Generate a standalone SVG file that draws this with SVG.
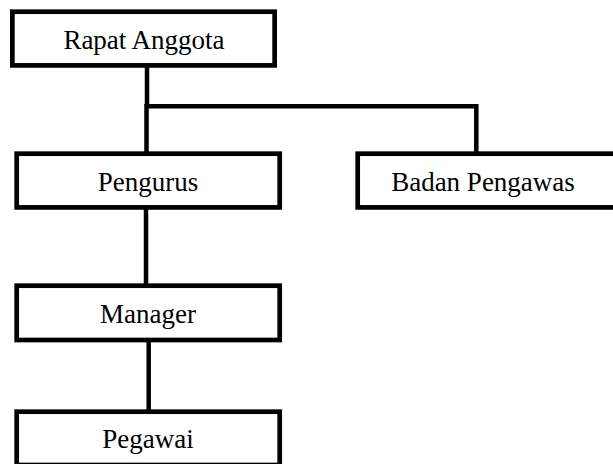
<svg xmlns="http://www.w3.org/2000/svg" width="613" height="464" viewBox="0 0 613 464">
<style>
.box{fill:#fff;stroke:#000;stroke-width:4.7}
.lbl{font-family:"Liberation Serif","Times New Roman",serif;font-size:27px;fill:#000;text-anchor:middle}
.ln{stroke:#000;stroke-width:4.5;fill:none}
</style>
<rect width="613" height="464" fill="#fff"/>
<g id="connectors">
<line class="ln" x1="147" y1="67" x2="147" y2="106.3"/>
<path class="ln" d="M146.5 153 V106.3 H476.3 V153"/>
<line class="ln" x1="146" y1="207" x2="146" y2="285"/>
<line class="ln" x1="148.7" y1="340" x2="148.7" y2="411"/>
</g>
<g id="rapat-anggota">
<rect class="box" x="12.35" y="11.7" width="262.3" height="53.7"/>
<text class="lbl" x="144" y="48.5">Rapat Anggota</text>
</g>
<g id="pengurus">
<rect class="box" x="16.7" y="153.7" width="263" height="53.7"/>
<text class="lbl" x="148" y="190.5">Pengurus</text>
</g>
<g id="badan-pengawas">
<rect class="box" x="357.7" y="153.7" width="262" height="53.7"/>
<text class="lbl" x="483" y="190.5">Badan Pengawas</text>
</g>
<g id="manager">
<rect class="box" x="16.7" y="285.7" width="263" height="54.3"/>
<text class="lbl" x="148" y="322.8">Manager</text>
</g>
<g id="pegawai">
<rect class="box" x="16.7" y="411.7" width="263" height="53.3"/>
<text class="lbl" x="148" y="448.2">Pegawai</text>
</g>
</svg>
